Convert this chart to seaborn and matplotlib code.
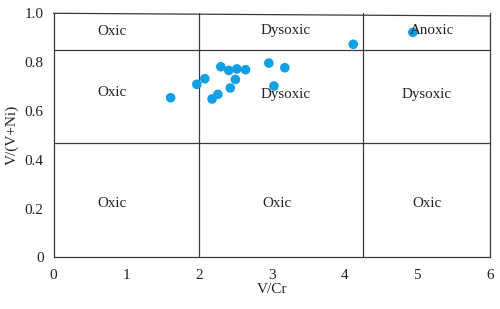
import seaborn as sns
import matplotlib.pyplot as plt
import pandas as pd

# Dados (V/Cr x V/(V+Ni))
v_cr = [1.61, 1.97, 2.08, 2.30, 2.41, 2.52, 2.64, 2.50, 2.43, 2.26, 2.18,
        2.96, 3.18, 3.03, 4.12, 4.94]
v_vni = [0.654, 0.709, 0.732, 0.781, 0.766, 0.772, 0.769, 0.729, 0.694,
         0.668, 0.649, 0.796, 0.777, 0.702, 0.873, 0.922]

# Limites dos campos
limites_x = [2.0, 4.25]
limites_y = [0.47, 0.85]

# Rótulos dos campos
rotulos = ['Oxic', 'Dysoxic', 'Anoxic',
           'Oxic', 'Dysoxic', 'Dysoxic',
           'Oxic', 'Oxic', 'Oxic']
rot_x = [0.81, 3.19, 5.20, 0.81, 3.19, 5.13, 0.81, 3.07, 5.14]
rot_y = [0.925, 0.93, 0.93, 0.675, 0.668, 0.668, 0.22, 0.22, 0.22]

df = pd.DataFrame({'V/Cr': v_cr, 'V/(V+Ni)': v_vni})

sns.set_theme(style="white")
plt.rcParams['font.family'] = ['Liberation Serif', 'DejaVu Serif']

fig = plt.figure(figsize=(5, 3.09), dpi=100)
ax = fig.add_axes([0.107, 0.167, 0.873, 0.79])

cor_linha = '#3a3a3a'

# linhas dos campos
for xv in limites_x:
    ax.axvline(xv, color=cor_linha, lw=0.9)
for yv in limites_y:
    ax.axhline(yv, color=cor_linha, lw=0.9)
# borda superior levemente inclinada
ax.plot([0, 6], [1.0, 0.989], color=cor_linha, lw=0.9, clip_on=False)

sns.scatterplot(x='V/Cr', y='V/(V+Ni)', data=df, ax=ax,
                color='#12a0e4', s=48, edgecolor='none', zorder=3)

for t, x, y in zip(rotulos, rot_x, rot_y):
    ax.text(x, y, t, ha='center', va='center', fontsize=10.8, color='#222222')

ax.set_xlim(0, 6)
ax.set_ylim(0, 1.0)
ax.set_xticks(range(7))
ax.set_xticklabels([str(i) for i in range(7)])
ax.set_yticks([0, 0.2, 0.4, 0.6, 0.8, 1.0])
ax.set_yticklabels(['0', '0.2', '0.4', '0.6', '0.8', '1.0'])
ax.tick_params(axis='x', direction='in', length=4, width=0.9, colors='#222222',
               labelsize=11, pad=8)
ax.tick_params(axis='y', direction='out', length=4, width=0.9, colors='#222222',
               labelsize=11, pad=3)

ax.spines['top'].set_visible(False)
for lado in ['left', 'bottom', 'right']:
    ax.spines[lado].set_color(cor_linha)
    ax.spines[lado].set_linewidth(0.9)

ax.set_xlabel('V/Cr', fontsize=11, labelpad=1)
ax.set_ylabel('V/(V+Ni)', fontsize=11, labelpad=4)

fig.savefig('out.png', dpi=100)
